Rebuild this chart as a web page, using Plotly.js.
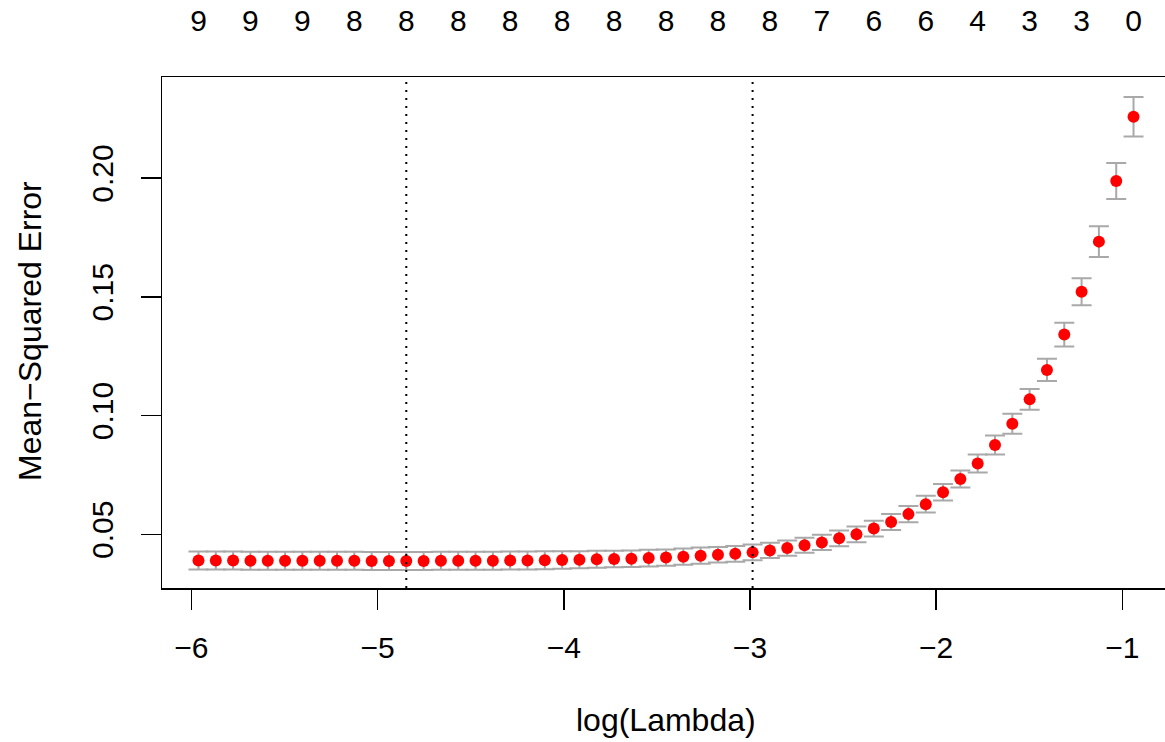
<!DOCTYPE html>
<html>
<head>
<meta charset="utf-8">
<script src="https://cdn.plot.ly/plotly-3.0.1.min.js"></script>
<style>
  html, body { margin: 0; padding: 0; background: #ffffff; overflow: hidden; }
  #chart { width: 1165px; height: 742px; }
</style>
</head>
<body>
<div id="chart"></div>
<script>
// log(lambda) sequence of the cross-validated fit
const logLambda = [
  -5.962, -5.869, -5.776, -5.683, -5.590, -5.497, -5.404, -5.311, -5.218, -5.125,
  -5.032, -4.939, -4.846, -4.753, -4.660, -4.567, -4.474, -4.381, -4.288, -4.195,
  -4.102, -4.009, -3.916, -3.823, -3.730, -3.637, -3.544, -3.451, -3.358, -3.265,
  -3.172, -3.079, -2.986, -2.893, -2.800, -2.707, -2.614, -2.521, -2.428, -2.335,
  -2.242, -2.149, -2.056, -1.963, -1.870, -1.777, -1.684, -1.591, -1.498, -1.405,
  -1.312, -1.219, -1.126, -1.033, -0.940
];
// cross-validated mean-squared error
const mse = [
  0.0390, 0.0390, 0.0390, 0.0389, 0.0389, 0.0389, 0.0389, 0.0389, 0.0389, 0.0389,
  0.0388, 0.0388, 0.0388, 0.0388, 0.0389, 0.0389, 0.0389, 0.0389, 0.0390, 0.0390,
  0.0391, 0.0392, 0.0393, 0.0395, 0.0396, 0.0397, 0.0400, 0.0402, 0.0406, 0.0410,
  0.0414, 0.0418, 0.0424, 0.0432, 0.0442, 0.0454, 0.0466, 0.0483, 0.0500, 0.0524,
  0.0552, 0.0585, 0.0627, 0.0677, 0.0733, 0.0798, 0.0876, 0.0965, 0.1068, 0.1192,
  0.1341, 0.1521, 0.1732, 0.1987, 0.2258
];
// standard error of the CV error
const mseSE = [
  0.0038, 0.0038, 0.0038, 0.0038, 0.0038, 0.0038, 0.0038, 0.0038, 0.0038, 0.0038,
  0.0038, 0.0038, 0.0038, 0.0038, 0.0038, 0.0038, 0.0038, 0.0038, 0.0038, 0.0038,
  0.0038, 0.0037, 0.0036, 0.0036, 0.0035, 0.0035, 0.0035, 0.0034, 0.0034, 0.0034,
  0.0033, 0.0033, 0.0033, 0.0032, 0.0032, 0.0032, 0.0032, 0.0033, 0.0033, 0.0033,
  0.0034, 0.0034, 0.0035, 0.0035, 0.0036, 0.0038, 0.0040, 0.0042, 0.0044, 0.0047,
  0.0050, 0.0057, 0.0065, 0.0076, 0.0083
];
// number of non-zero coefficients, shown for every third lambda
const nzeroLabels = ['9','9','9','8','8','8','8','8','8','8','8','8','7','6','6','4','3','3','0'];
const labelEvery = 3;
// selected lambdas
const logLambdaMin = -4.846;
const logLambda1se = -2.986;
// axis ticks
const xTicks = [-6, -5, -4, -3, -2, -1];
const yTicks = [0.05, 0.10, 0.15, 0.20];
const yTickText = ['0.05', '0.10', '0.15', '0.20'];

const topX = logLambda.filter((v, i) => i % labelEvery === 0);

const FONT = 'Liberation Sans, Arial, Helvetica, sans-serif';
const xRange = [-6.158, -0.771];
const yRange = [0.0274, 0.2425];

const traces = [
  {
    type: 'scatter',
    mode: 'markers',
    x: logLambda,
    y: mse,
    marker: { color: '#ff0000', size: 12, line: { width: 0 } },
    error_y: { type: 'data', array: mseSE, visible: true, color: '#a9a9a9', thickness: 2, width: 10 },
    showlegend: false,
    hoverinfo: 'x+y',
    cliponaxis: false
  },
  {
    type: 'scatter',
    mode: 'markers',
    x: topX,
    y: topX.map(() => yRange[1]),
    xaxis: 'x2',
    marker: { opacity: 0, size: 1 },
    showlegend: false,
    hoverinfo: 'skip'
  }
];

const layout = {
  width: 1165,
  height: 742,
  margin: { l: 162, r: 0, t: 77, b: 154, pad: 0 },
  paper_bgcolor: '#ffffff',
  plot_bgcolor: '#ffffff',
  font: { family: FONT, size: 30, color: '#000000' },
  showlegend: false,
  xaxis: {
    range: xRange,
    tickvals: xTicks,
    ticks: 'outside',
    ticklen: 20,
    tickwidth: 1.5,
    tickcolor: '#000000',
    showline: true,
    mirror: true,
    linecolor: '#000000',
    linewidth: 1.5,
    showgrid: false,
    zeroline: false,
    ticklabelstandoff: 12,
    tickfont: { family: FONT, size: 30, color: '#000000' }
  },
  xaxis2: {
    range: xRange,
    overlaying: 'x',
    side: 'top',
    anchor: 'y',
    tickvals: topX,
    ticktext: nzeroLabels,
    ticks: '',
    showline: false,
    showgrid: false,
    zeroline: false,
    ticklabelstandoff: 39,
    tickfont: { family: FONT, size: 30, color: '#000000' }
  },
  yaxis: {
    range: yRange,
    tickvals: yTicks,
    ticktext: yTickText,
    tickangle: -90,
    ticks: 'outside',
    ticklen: 20,
    tickwidth: 1.5,
    tickcolor: '#000000',
    showline: true,
    mirror: false,
    linecolor: '#000000',
    linewidth: 1.5,
    showgrid: false,
    zeroline: false,
    ticklabelstandoff: 16,
    tickfont: { family: FONT, size: 30, color: '#000000' }
  },
  shapes: [logLambdaMin, logLambda1se].map(v => ({
    type: 'line', xref: 'x', yref: 'paper',
    x0: v, x1: v, y0: 0, y1: 1,
    line: { color: '#000000', width: 2, dash: '2px,6px' }
  })),
  annotations: [
    {
      text: 'log(Lambda)', xref: 'paper', yref: 'paper',
      x: 0.5025, y: -0.258, xanchor: 'center', yanchor: 'middle',
      showarrow: false, font: { family: FONT, size: 32, color: '#000000' }
    },
    {
      text: 'Mean\u2212Squared Error', xref: 'paper', yref: 'paper',
      x: -0.1316, y: 0.503, xanchor: 'center', yanchor: 'middle', textangle: -90,
      showarrow: false, font: { family: FONT, size: 32, color: '#000000' }
    }
  ]
};

Plotly.newPlot('chart', traces, layout, { displayModeBar: false, staticPlot: true });
</script>
</body>
</html>
